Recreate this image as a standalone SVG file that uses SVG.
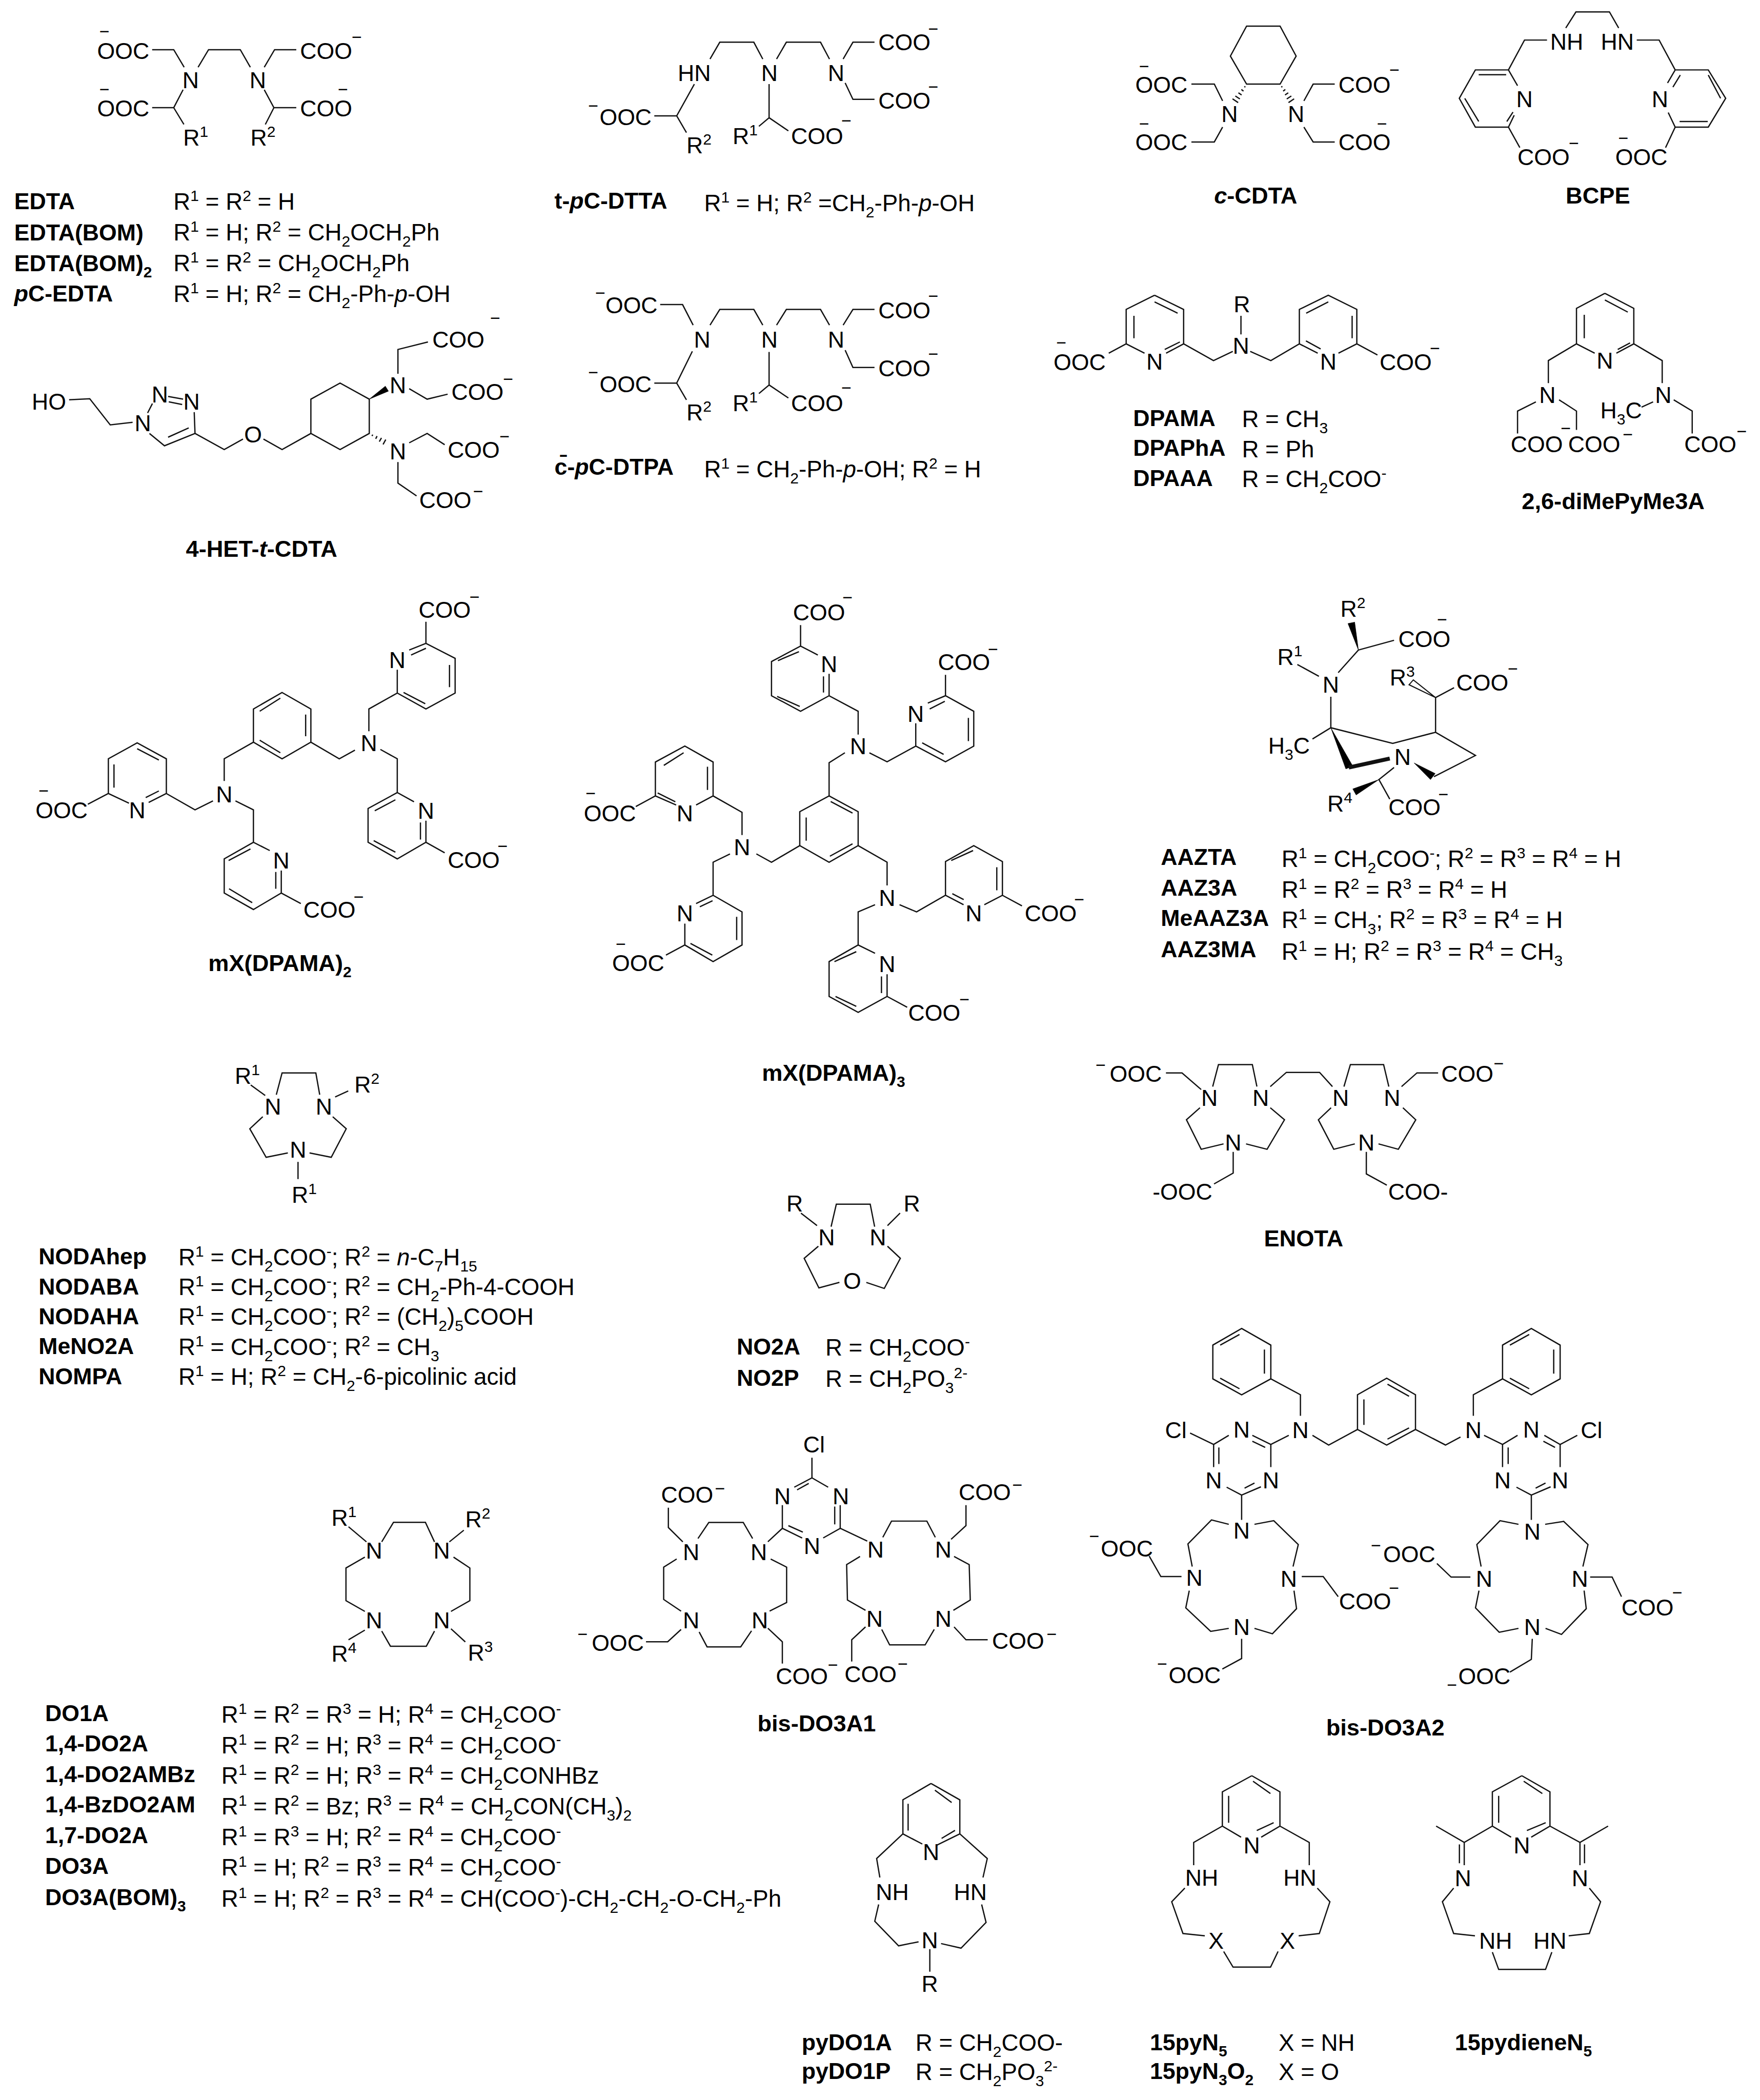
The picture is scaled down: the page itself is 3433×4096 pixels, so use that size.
<svg xmlns="http://www.w3.org/2000/svg" width="3433" height="4096" viewBox="0 0 3433 4096">
<style>
text{font-family:"Liberation Sans",Arial,sans-serif;fill:#000}
.a{font-size:17.1px}
.t{font-size:17.5px}
.n{font-size:17.1px;text-anchor:middle}
.b{font-size:17.1px;font-weight:bold}
.c{font-size:17.3px;font-weight:bold;text-anchor:middle}
.m{font-size:13px;text-anchor:middle}
.u{font-size:11.5px;baseline-shift:6.4px}
.d{font-size:11.5px;baseline-shift:-4.5px}
.i{font-style:italic}
path{fill:none;stroke:#111;stroke-width:.95;stroke-linejoin:miter}
.f{fill:#000;stroke:#000;stroke-width:.3}
.o{fill:#fff;stroke:#111;stroke-width:.8}
.k{stroke-width:3}
</style>
<rect width="3433" height="4096" fill="#fff"/>
<g transform="scale(2.6126)">

<g id="EDTA">
<path d="M113.6 37.1H129.7L137.5 50.2M147.9 50.2L155.7 37.1H179.4L186.9 50.2M197.3 50.2L205 37.1H221.2M113.6 80.4H129.7M136.7 67L129.7 80.4L137.3 92.9M197.3 67L204.5 80.4H221.2M204.5 80.4L198.1 92.9"/>
<text class="a" x="72.5" y="44">OOC</text><text class="m" x="78" y="28">−</text>
<text class="a" x="224" y="44">COO</text><text class="m" x="266.4" y="32.2">−</text>
<text class="n" x="142.3" y="66">N</text><text class="n" x="192.5" y="66">N</text>
<text class="a" x="72.5" y="87">OOC</text><text class="m" x="78" y="71.3">−</text>
<text class="a" x="224" y="87">COO</text><text class="m" x="256" y="71.3">−</text>
<text class="a" x="136.7" y="108.8">R<tspan class="u">1</tspan></text>
<text class="a" x="187" y="108.8">R<tspan class="u">2</tspan></text>
<text class="b" x="10.6" y="156.2">EDTA</text>
<text class="t" x="129.5" y="156.5">R<tspan class="u">1</tspan> = R<tspan class="u">2</tspan> = H</text>
<text class="b" x="10.6" y="179.4">EDTA(BOM)</text>
<text class="t" x="129.5" y="179.5">R<tspan class="u">1</tspan> = H; R<tspan class="u">2</tspan> = CH<tspan class="d">2</tspan>OCH<tspan class="d">2</tspan>Ph</text>
<text class="b" x="10.6" y="202.3">EDTA(BOM)<tspan class="d">2</tspan></text>
<text class="t" x="129.5" y="202.5">R<tspan class="u">1</tspan> = R<tspan class="u">2</tspan> = CH<tspan class="d">2</tspan>OCH<tspan class="d">2</tspan>Ph</text>
<text class="b" x="10.6" y="225.2"><tspan class="i">p</tspan>C-EDTA</text>
<text class="t" x="129.5" y="225.5">R<tspan class="u">1</tspan> = H; R<tspan class="u">2</tspan> = CH<tspan class="d">2</tspan>-Ph-<tspan class="i">p</tspan>-OH</text>
</g>

<g id="t-pC-DTTA">
<path d="M530.1 44.1L537.4 31.5H562.8L569.5 44.1M579.8 44.1L587.1 31.5H612.6L619.3 44.1M629.5 44.1L636.8 31.5H652.9M631 61.9L636.8 74.2H652.9M518.4 62.8L505.2 86.5H488.5M505.2 86.5L512.5 99M574.2 62.8V87.9L566.6 94.3M574.2 87.9L588.6 97.7"/>
<text class="n" x="518.4" y="60.4">HN</text><text class="n" x="574.5" y="60.4">N</text><text class="n" x="624.2" y="60.4">N</text>
<text class="a" x="655.8" y="37.7">COO</text><text class="m" x="696.8" y="26.1">−</text>
<text class="a" x="655.8" y="81.2">COO</text><text class="m" x="696.8" y="69.3">−</text>
<text class="a" x="447.6" y="93.5">OOC</text><text class="m" x="442.9" y="83.3">−</text>
<text class="a" x="512.5" y="114.4">R<tspan class="u">2</tspan></text>
<text class="a" x="547" y="107.4">R<tspan class="u">1</tspan></text>
<text class="a" x="590.6" y="107.4">COO</text><text class="m" x="631.9" y="94.4">−</text>
<text class="b" x="414" y="155.7">t-<tspan class="i">p</tspan>C-DTTA</text>
<text class="t" x="525.7" y="157.6">R<tspan class="u">1</tspan> = H; R<tspan class="u">2</tspan> =CH<tspan class="d">2</tspan>-Ph-<tspan class="i">p</tspan>-OH</text>
</g>

<g id="c-pC-DTPA">
<path d="M492.9 227.4H509.6L517.5 242.7M530.1 242.7L537.4 231H562.8L569.5 242.7M579.8 242.7L587.1 231H612.6L619.3 242.7M629.5 242.7L636.8 231H652.9M631 261.4L636.8 274.3H652.9M516.9 262.3L505.2 286H488.5M505.2 286L512.5 298.5M574.2 262.8V287.4L566.6 293.8M574.2 287.4L588.6 297.1"/>
<text class="n" x="524.2" y="259.4">N</text><text class="n" x="574.5" y="259.4">N</text><text class="n" x="624.2" y="259.4">N</text>
<text class="a" x="452" y="233.8">OOC</text><text class="m" x="448.2" y="223.3">−</text>
<text class="a" x="655.8" y="237.7">COO</text><text class="m" x="696.8" y="225.5">−</text>
<text class="a" x="655.8" y="281">COO</text><text class="m" x="696.8" y="268.8">−</text>
<text class="a" x="447.6" y="293">OOC</text><text class="m" x="442.9" y="282.5">−</text>
<text class="a" x="512.5" y="313.9">R<tspan class="u">2</tspan></text>
<text class="a" x="547" y="306.9">R<tspan class="u">1</tspan></text>
<text class="a" x="590.6" y="306.9">COO</text><text class="m" x="631.9" y="293.9">−</text>
<text class="b" x="414" y="354.3">c̄-<tspan class="i">p</tspan>C-DTPA</text>
<text class="t" x="525.7" y="356.3">R<tspan class="u">1</tspan> = CH<tspan class="d">2</tspan>-Ph-<tspan class="i">p</tspan>-OH; R<tspan class="u">2</tspan> = H</text>
</g>

<g id="c-CDTA">
<path d="M930.7 19.5H955.7L967.7 41.9L955.7 62.8H930.7L918.6 41.9ZM889.5 62.8H906.6L912.8 75.3M912.8 94.9L906.6 106H889.5M973.5 75.3L980.4 62.8H996.5M973.5 94.9L980.4 106H996.5"/>
<path d="M929 64.5L929.8 65.1M926.8 66.8L928.4 68M924.6 69.3L927 70.9M922.3 71.7L925.7 73.9M920.2 73.8L924.4 76.6M957.4 64.5L956.6 65.1M959.6 66.8L958 68M961.8 69.3L959.4 70.9M964.1 71.7L960.7 73.9M966.2 73.8L962 76.6"/>
<text class="n" x="918" y="91.1">N</text><text class="n" x="967.7" y="91.1">N</text>
<text class="a" x="847.6" y="69.2">OOC</text><text class="m" x="854.2" y="54">−</text>
<text class="a" x="847.6" y="112.2">OOC</text><text class="m" x="854.2" y="96.9">−</text>
<text class="a" x="999.3" y="69.2">COO</text><text class="m" x="1041.1" y="56.8">−</text>
<text class="a" x="999.3" y="112.2">COO</text><text class="m" x="1031.8" y="96.9">−</text>
<text class="c" x="937.5" y="152"><tspan class="i">c</tspan>-CDTA</text>
</g>

<g id="BCPE">
<path d="M1169 20.9L1176.6 8.9H1201.6L1208.5 20.9M1155 29.9H1138.2L1126.2 52.2M1222 29.9H1238.7L1250.7 52.2"/>
<path d="M1126.2 52.2H1101.5L1089.5 73.4L1101.5 94.9H1126.2L1130.5 86M1126.2 52.2L1133 64M1104 55.8H1124.5M1093.6 73.4L1104 90.7M1125 90.7L1129.6 83.7"/>
<path d="M1250.7 52.2H1275.4L1288.4 73.4L1275.4 94.9H1250.7L1245.5 84M1250.7 52.2L1245 62M1254.5 56L1249 65M1254 90.7H1275M1275.4 56L1284.6 73.4"/>
<path d="M1126.2 94.9L1134.7 110.2M1250.7 94.9L1243.5 110.2"/>
<text class="n" x="1169.7" y="37.2">NH</text><text class="n" x="1207.5" y="37.2">HN</text>
<text class="n" x="1138.2" y="79.9">N</text><text class="n" x="1239.3" y="79.9">N</text>
<text class="a" x="1133" y="123.3">COO</text><text class="m" x="1175" y="111.2">−</text>
<text class="a" x="1206" y="123.3">OOC</text><text class="m" x="1212" y="107.5">−</text>
<text class="c" x="1193" y="152">BCPE</text>
</g>

<g id="4-HET-t-CDTA">
<path d="M51.6 298.5L67 297.7L82.3 317.2L99 315.3M110.2 308.3L113.8 301.3M125.5 296L136.7 298M126 300L136 302M145 307.7L145.6 323.6L122.8 332.8L111.6 323.6M140.9 319.5L125.5 326.4M145.6 323.6L167.4 335.6L181.4 327.8M196.7 327.8L210.6 335.6L232.1 323.6V298L253.9 286L275.7 298V323.6L253.9 335.6L232.1 323.6"/>
<polygon class="f" points="275.7,298 287.7,288.3 290,292"/>
<path d="M277.7 325.5L278.3 324.5M280.5 327.6L281.5 325.6M283.2 329.7L284.8 326.9M286 331.8L288 328.2"/>
<path d="M297.1 279V260.9L319.5 255.3M305.5 290.2L318.9 298L334.2 294.3M305.5 330.6L318.9 323.6L332 332M297.1 345V360.7L311 370.2"/>
<text class="a" x="23.7" y="306">HO</text>
<text class="n" x="106.6" y="322">N</text><text class="n" x="119.4" y="300.3">N</text><text class="n" x="143" y="306">N</text>
<text class="n" x="188.9" y="330.2">O</text>
<text class="n" x="297.1" y="293.4">N</text><text class="n" x="297.1" y="342.8">N</text>
<text class="a" x="322.8" y="259.5">COO</text><text class="m" x="369.7" y="242">−</text>
<text class="a" x="337" y="298.5">COO</text><text class="m" x="379.4" y="287.5">−</text>
<text class="a" x="334.2" y="341.8">COO</text><text class="m" x="376.7" y="330.2">−</text>
<text class="a" x="313" y="379.4">COO</text><text class="m" x="357" y="371.2">−</text>
<text class="c" x="195.3" y="415.7">4-HET-<tspan class="i">t</tspan>-CDTA</text>
</g>

<g id="DPAMA">
<path d="M862 220.4L883.7 231V256.7L870.6 263.7M854.5 263.7L840.8 256.7V231L862 220.4M846.6 235.8V252.5M862 225.4L879.2 233.8M869.6 260.9L880.9 255.3M840.8 256.7L827.8 263.7M883.7 256.7L906 269.2L920.4 262.3M926.5 235.8V249.7M933.4 262.3L948.8 269.2L970.1 256.7L983.8 263.7M999.3 263.7L1013 256.7V231L991.7 220.4L970.1 231V256.7M1009.5 235.8V252.5M991.7 225.4L975.2 233.8M975 254.5L986 260.5M1013 256.7L1028.4 265"/>
<text class="a" x="786.6" y="276.2">OOC</text><text class="m" x="792.4" y="260.1">−</text>
<text class="n" x="862" y="276">N</text><text class="n" x="926.5" y="264">N</text><text class="n" x="991.7" y="276">N</text>
<text class="n" x="927.2" y="233">R</text>
<text class="a" x="1030" y="276.2">COO</text><text class="m" x="1071.3" y="264.6">−</text>
<text class="b" x="846" y="318">DPAMA</text><text class="t" x="927.2" y="319">R = CH<tspan class="d">3</tspan></text>
<text class="b" x="846" y="340.4">DPAPhA</text><text class="t" x="927.2" y="341.4">R = Ph</text>
<text class="b" x="846" y="362.7">DPAAA</text><text class="t" x="927.2" y="363.7">R = CH<tspan class="d">2</tspan>COO<tspan class="u">-</tspan></text>
</g>

<g id="diMePyMe3A">
<path d="M1198.2 219L1219.8 230.2V256.7L1206.8 263.7M1190.6 263.7L1177 256.7V230.2L1198.2 219M1182.8 235V252.5M1198.2 224L1215.3 233M1207.8 260.9L1217 256M1177 256.7L1156 269.2V286M1219.8 256.7L1241 269.2V286M1146.7 300L1133 306.9V323.6M1164 298.5L1177 306.9V320.9M1225.6 304L1234.2 300M1249.6 298.5L1263.4 306.9V323.6"/>
<text class="n" x="1198.2" y="275.2">N</text><text class="n" x="1155.3" y="301">N</text><text class="n" x="1241.8" y="301">N</text>
<text class="a" x="1127.9" y="337.6">COO</text><text class="a" x="1170.8" y="337.6">COO</text>
<text class="m" x="1169" y="324.3">−</text><text class="m" x="1215.3" y="328.8">−</text>
<text class="a" x="1194.8" y="312.5">H<tspan class="d">3</tspan>C</text>
<text class="a" x="1257.5" y="337.6">COO</text><text class="m" x="1300.4" y="326.5">−</text>
<text class="c" x="1204.4" y="380">2,6-diMePyMe3A</text>
</g>

<g id="mX-DPAMA-2">
<path d="M210.6 517L232.1 529.3V554.1L210.6 566.5L189.2 554.1V529.3ZM193.9 531L209.3 521.2M228.2 533.5V549.6M193.9 552.6L209.3 562M189.2 554.1L167.4 566.5V583M232.1 554.1L253.3 566.5L265 560M159 597.9L145.6 604.6L124.2 592.4"/>
<path d="M124.2 592.4V566.5L102.4 554.6L80.9 566.5V592.4L96.3 599.6M124.2 592.4L111 599.1M85.1 570.7V588M102.4 559L118.6 567.4M108.8 595.4L118.6 590.5M80.9 592.4L65.6 600.4"/>
<path d="M175.8 597.9L189.2 604.6V628.8L201.4 635M210 649.9V666.7L189.2 679L167.4 666.7V641.2L189.2 628.8M205.9 651V663.5M171 663.5L188.3 673.9M170.7 642.4L187 633.8M210 666.7L224.6 674.6"/>
<path d="M275.4 545.9V529.3L296.6 517.4V500M305.5 485.3L318 480.3L339.8 491.5V517.4L318 529.3L296.6 517.4M306.9 489L318 484M335.6 496.4V513M301.3 517L317.5 525.4M318 480.3V464.2"/>
<path d="M284 559.5L296.6 566.5V591.7L309.1 598.6M318 612.7V628.8L296.6 641.2L274.8 628.8V603.6L296.6 591.7M313.9 614V626.8M279 627.6L295.2 636.2M279.8 605.3L295.2 597.1M318 628.8L332 636.7"/>
<text class="a" x="26.5" y="611">OOC</text><text class="m" x="32.6" y="594.8">−</text>
<text class="n" x="102.4" y="611">N</text><text class="n" x="167.4" y="599">N</text><text class="n" x="275.4" y="560.6">N</text>
<text class="n" x="210" y="648.4">N</text><text class="n" x="296.6" y="498.7">N</text><text class="n" x="318" y="611.3">N</text>
<text class="a" x="226.5" y="685.3">COO</text><text class="m" x="267.8" y="674">−</text>
<text class="a" x="312.5" y="461.3">COO</text><text class="m" x="354.3" y="450">−</text>
<text class="a" x="334.2" y="648.1">COO</text><text class="m" x="375.3" y="636.3">−</text>
<text class="c" x="209" y="724.9">mX(DPAMA)<tspan class="d">2</tspan></text>
</g>

<g id="mX-DPAMA-3">
<path d="M619 594.2L640.7 606V631.3L619 643.7L597.1 631.3V606ZM620.2 598.4L636.5 607M601.9 610.3V627.6M619.6 639.2L636.5 630"/>
<path d="M619 594.2V569.4L630.8 562M640.7 548.4V531L619 519.4V503M614.8 505V517M619 519.4L597.7 531L576 519.4V493.9L597.7 482.3L610.6 489M580.8 493.2L596.5 486.5M580.2 519.9L597.1 527.4M597.7 482.3V466.7"/>
<path d="M649.1 562L662.3 568.7L683.7 557V540M692.7 524.9L705.9 519.4L727 531V557L705.9 568.7L683.7 557M694.1 529.3L705.4 523.6M723 536V553.3M688.5 554.6L704.5 563.2M705.9 519.4V503.8"/>
<path d="M597.1 631.3L576 643.7L564.7 637.5M554 623.4V606.5L532.4 594.2V568.9L511.3 557L489.3 568.9V594.2L504.8 601M532.4 594.2L519.7 601M528.2 572.4V589.7M495.6 571.4L510.4 562M491 592L504.2 598.6M489.3 594.2L474.7 602.1"/>
<path d="M545 637.5L532.4 643.7V668.4L519.7 674.6M522.5 677L532 672.5M532.4 668.4L554 680.8V705.5L532.4 717.9L511.3 705.5V689.5M550 684.5V701.8M515.5 704.3L531.8 713M511.3 705.5L497.2 713"/>
<path d="M640.7 631.3L662.3 643.7V661M671.6 675.4L684.3 680.8L705.9 668.4L719.4 675.4M711 667.2L719.5 671.6M705.9 668.4V643.2L727 631.3L748.4 643.2V668.4L734.9 675.4M744.2 647.4V664.7M710.2 642.4L726.5 635M748.4 668.4L763 676.3"/>
<path d="M653.3 675.4L640.7 680.8V705.5L653.3 711.7M662.3 727.3V743.9L640.7 755.8L619 743.9V717.9L640.7 705.5M658.1 729V741.4M623.8 743.9L639.3 751.3M623 717.9L639.3 710.5M662.3 743.9L677.3 752"/>
<text class="n" x="640.7" y="563">N</text><text class="n" x="619" y="501.7">N</text><text class="n" x="683.7" y="539">N</text>
<text class="n" x="554" y="638.5">N</text><text class="n" x="511.3" y="613">N</text><text class="n" x="511.3" y="688">N</text>
<text class="n" x="662.3" y="676.2">N</text><text class="n" x="727" y="688">N</text><text class="n" x="662.3" y="725.6">N</text>
<text class="a" x="592" y="463">COO</text><text class="m" x="632.8" y="450.7">−</text>
<text class="a" x="700.3" y="500.1">COO</text><text class="m" x="741.4" y="489.1">−</text>
<text class="a" x="435.9" y="613.2">OOC</text><text class="m" x="441" y="596.7">−</text>
<text class="a" x="457" y="724.9">OOC</text><text class="m" x="463.5" y="709.1">−</text>
<text class="a" x="765" y="687.7">COO</text><text class="m" x="805.8" y="675.9">−</text>
<text class="a" x="678.1" y="762">COO</text><text class="m" x="720" y="750.7">−</text>
<text class="c" x="622.4" y="807">mX(DPAMA)<tspan class="d">3</tspan></text>
</g>

<g id="AAZTA">
<polygon class="f" points="1014.2,485.3 1006.4,465.5 1011.4,464.5"/>
<path d="M1014.2 485.3L1040.8 478M1014.2 485.3L999.1 502.2M968.6 496.1L984.7 504.9M993.6 520.2V543.3M979.9 551.7L993.6 543.3L1039.8 555L1071.8 546.7V520.8M1071.8 520.8L1085.6 513.4M1071.8 546.7L1101.6 564L1070.6 579.8M1040.8 573L1029.5 582L1037.6 596.6"/>
<polygon class="o" points="1071.8,520.8 1052,511.2 1055.2,507.6"/>
<polygon class="f" points="1055.8,569.6 1071.5,577.5 1068,582"/>
<polygon class="f" points="993.6,543.3 1004.8,574 1010,572"/>
<path class="k" d="M1007 573L1037.6 566.3"/>
<polygon class="f" points="1029.5,582 1012.5,593.5 1010,589"/>
<text class="a" x="1000.7" y="460.5">R<tspan class="u">2</tspan></text>
<text class="a" x="1044" y="483">COO</text><text class="m" x="1076.7" y="467.1">−</text>
<text class="n" x="993.6" y="517.2">N</text>
<text class="a" x="953.6" y="496.5">R<tspan class="u">1</tspan></text>
<text class="a" x="946.9" y="562.5">H<tspan class="d">3</tspan>C</text>
<text class="a" x="1037.6" y="511.6">R<tspan class="u">3</tspan></text>
<text class="a" x="1087.2" y="515.7">COO</text><text class="m" x="1129.5" y="503.8">−</text>
<text class="n" x="1047.2" y="571.2">N</text>
<text class="a" x="1036.6" y="608.4">COO</text><text class="m" x="1077.6" y="597.6">−</text>
<text class="a" x="991" y="606.1">R<tspan class="u">4</tspan></text>
<text class="b" x="866.7" y="645.7">AAZTA</text>
<text class="t" x="956.8" y="647.3">R<tspan class="u">1</tspan> = CH<tspan class="d">2</tspan>COO<tspan class="u">-</tspan>; R<tspan class="u">2</tspan> = R<tspan class="u">3</tspan> = R<tspan class="u">4</tspan> = H</text>
<text class="b" x="866.7" y="668.7">AAZ3A</text>
<text class="t" x="956.8" y="670.3">R<tspan class="u">1</tspan> = R<tspan class="u">2</tspan> = R<tspan class="u">3</tspan> = R<tspan class="u">4</tspan> = H</text>
<text class="b" x="866.7" y="691.2">MeAAZ3A</text>
<text class="t" x="956.8" y="692.8">R<tspan class="u">1</tspan> = CH<tspan class="d">3</tspan>; R<tspan class="u">2</tspan> = R<tspan class="u">3</tspan> = R<tspan class="u">4</tspan> = H</text>
<text class="b" x="866.7" y="714.8">AAZ3MA</text>
<text class="t" x="956.8" y="716.4">R<tspan class="u">1</tspan> = H; R<tspan class="u">2</tspan> = R<tspan class="u">3</tspan> = R<tspan class="u">4</tspan> = CH<tspan class="d">3</tspan></text>
</g>

<g id="NODA">
<path d="M206.3 817.3L210.6 801H235.8L238.7 817.3M187.2 810L198 817.9M250.2 819L260 814.5M196.2 833.7L186.5 842.7L198.7 864L214.9 860.7M248.4 833.7L258.5 842.7L247.3 864L231.1 860.7M222.5 867.4V880.3"/>
<text class="a" x="175.3" y="809">R<tspan class="u">1</tspan></text>
<text class="a" x="264.6" y="815.7">R<tspan class="u">2</tspan></text>
<text class="a" x="217.8" y="897.8">R<tspan class="u">1</tspan></text>
<text class="n" x="203.8" y="832.2">N</text><text class="n" x="241.9" y="832.2">N</text><text class="n" x="222.5" y="864.4">N</text>
<text class="b" x="28.8" y="944">NODAhep</text>
<text class="t" x="133.2" y="944.5">R<tspan class="u">1</tspan> = CH<tspan class="d">2</tspan>COO<tspan class="u">-</tspan>; R<tspan class="u">2</tspan> = <tspan class="i">n</tspan>-C<tspan class="d">7</tspan>H<tspan class="d">15</tspan></text>
<text class="b" x="28.8" y="966.4">NODABA</text>
<text class="t" x="133.2" y="966.9">R<tspan class="u">1</tspan> = CH<tspan class="d">2</tspan>COO<tspan class="u">-</tspan>; R<tspan class="u">2</tspan> = CH<tspan class="d">2</tspan>-Ph-4-COOH</text>
<text class="b" x="28.8" y="988.5">NODAHA</text>
<text class="t" x="133.2" y="989">R<tspan class="u">1</tspan> = CH<tspan class="d">2</tspan>COO<tspan class="u">-</tspan>; R<tspan class="u">2</tspan> = (CH<tspan class="d">2</tspan>)<tspan class="d">5</tspan>COOH</text>
<text class="b" x="28.8" y="1011">MeNO2A</text>
<text class="t" x="133.2" y="1011.5">R<tspan class="u">1</tspan> = CH<tspan class="d">2</tspan>COO<tspan class="u">-</tspan>; R<tspan class="u">2</tspan> = CH<tspan class="d">3</tspan></text>
<text class="b" x="28.8" y="1033.5">NOMPA</text>
<text class="t" x="133.2" y="1034">R<tspan class="u">1</tspan> = H; R<tspan class="u">2</tspan> = CH<tspan class="d">2</tspan>-6-picolinic acid</text>
</g>

<g id="ENOTA">
<path d="M870.5 801H882.5L896.8 813.4M905.4 811.2L909.7 794.8H935L938.4 811.2M948.4 811.2L960.4 800.6H985.2L994.8 811.2M1003.4 811.2L1008.2 794.8H1033L1036.9 811.2M1046.4 811.2L1057.9 801H1073.7M895.9 827L885.8 836L896.8 858L913.5 854M948.4 827L959 836L946 858L930.3 854M920.7 860V875.8L906.4 883.9M993.8 827L984.3 836L995.8 858L1011.5 854M1047.4 827L1057 836L1044 858L1029.2 854M1020.1 860V876.4L1035.4 884.8"/>
<text class="m" x="821.8" y="799.7">−</text><text class="a" x="828.5" y="807.8">OOC</text>
<text class="a" x="1076" y="807.8">COO</text><text class="m" x="1119" y="798.6">−</text>
<text class="n" x="903" y="825.5">N</text><text class="n" x="941.3" y="825.5">N</text><text class="n" x="1001" y="825.5">N</text><text class="n" x="1039.3" y="825.5">N</text>
<text class="n" x="920.7" y="858.8">N</text><text class="n" x="1020.1" y="858.8">N</text>
<text class="a" x="860.5" y="895.6">-OOC</text><text class="a" x="1036.4" y="895.6">COO-</text>
<text class="c" x="973.3" y="930.4">ENOTA</text>
</g>

<g id="NO2A">
<path d="M620.5 915.8L624.4 899H649.7L653 915.8M598 905.7L610 915M672 905.7L662.6 915M611 930.4L600.4 939.4L611.4 961.5L626.7 957.4M662.6 930.4L672.2 939.4L660.2 961.9L646.8 957.4"/>
<text class="n" x="593.3" y="904.6">R</text><text class="n" x="680.8" y="904.6">R</text>
<text class="n" x="617.2" y="929.7">N</text><text class="n" x="655.4" y="929.7">N</text><text class="n" x="636.3" y="962.3">O</text>
<text class="b" x="550" y="1011.4">NO2A</text><text class="t" x="616.2" y="1012">R = CH<tspan class="d">2</tspan>COO<tspan class="u">-</tspan></text>
<text class="b" x="550" y="1034.6">NO2P</text><text class="t" x="616.2" y="1035.2">R = CH<tspan class="d">2</tspan>PO<tspan class="d">3</tspan><tspan class="u">2-</tspan></text>
</g>

<g id="DO-series">
<path d="M285 1151.1L293.8 1136.5H317.6L324.4 1151.1M285 1217.7L291.5 1229H318.3L324.4 1217.7M272.4 1162.5L258.3 1170.6V1195L272.4 1203M338.6 1162.5L350.8 1170.6V1195L336.7 1203M260.2 1139.8L273.6 1151.1M346.3 1142.4L335.5 1151.1M272.4 1217L260.2 1224.2M336.7 1216L347.4 1225.8"/>
<text class="n" x="279.3" y="1163.6">N</text><text class="n" x="329.8" y="1163.6">N</text><text class="n" x="279.3" y="1215.6">N</text><text class="n" x="329.8" y="1215.6">N</text>
<text class="a" x="247.5" y="1139.1">R<tspan class="u">1</tspan></text><text class="a" x="347.4" y="1140.4">R<tspan class="u">2</tspan></text>
<text class="a" x="349.3" y="1239.8">R<tspan class="u">3</tspan></text><text class="a" x="247.5" y="1240.4">R<tspan class="u">4</tspan></text>
<text class="b" x="33.7" y="1284.9">DO1A</text>
<text class="t" x="165.3" y="1286.2">R<tspan class="u">1</tspan> = R<tspan class="u">2</tspan> = R<tspan class="u">3</tspan> = H; R<tspan class="u">4</tspan> = CH<tspan class="d">2</tspan>COO<tspan class="u">-</tspan></text>
<text class="b" x="33.7" y="1307.6">1,4-DO2A</text>
<text class="t" x="165.3" y="1308.9">R<tspan class="u">1</tspan> = R<tspan class="u">2</tspan> = H; R<tspan class="u">3</tspan> = R<tspan class="u">4</tspan> = CH<tspan class="d">2</tspan>COO<tspan class="u">-</tspan></text>
<text class="b" x="33.7" y="1330.4">1,4-DO2AMBz</text>
<text class="t" x="165.3" y="1331.7">R<tspan class="u">1</tspan> = R<tspan class="u">2</tspan> = H; R<tspan class="u">3</tspan> = R<tspan class="u">4</tspan> = CH<tspan class="d">2</tspan>CONHBz</text>
<text class="b" x="33.7" y="1353.1">1,4-BzDO2AM</text>
<text class="t" x="165.3" y="1354.4">R<tspan class="u">1</tspan> = R<tspan class="u">2</tspan> = Bz; R<tspan class="u">3</tspan> = R<tspan class="u">4</tspan> = CH<tspan class="d">2</tspan>CON(CH<tspan class="d">3</tspan>)<tspan class="d">2</tspan></text>
<text class="b" x="33.7" y="1376.1">1,7-DO2A</text>
<text class="t" x="165.3" y="1377.4">R<tspan class="u">1</tspan> = R<tspan class="u">3</tspan> = H; R<tspan class="u">2</tspan> = R<tspan class="u">4</tspan> = CH<tspan class="d">2</tspan>COO<tspan class="u">-</tspan></text>
<text class="b" x="33.7" y="1398.9">DO3A</text>
<text class="t" x="165.3" y="1400.2">R<tspan class="u">1</tspan> = H; R<tspan class="u">2</tspan> = R<tspan class="u">3</tspan> = R<tspan class="u">4</tspan> = CH<tspan class="d">2</tspan>COO<tspan class="u">-</tspan></text>
<text class="b" x="33.7" y="1422.3">DO3A(BOM)<tspan class="d">3</tspan></text>
<text class="t" x="165.3" y="1423.6">R<tspan class="u">1</tspan> = H; R<tspan class="u">2</tspan> = R<tspan class="u">3</tspan> = R<tspan class="u">4</tspan> = CH(COO<tspan class="u">-</tspan>)-CH<tspan class="d">2</tspan>-CH<tspan class="d">2</tspan>-O-CH<tspan class="d">2</tspan>-Ph</text>
</g>

<g id="bis-DO3A1">
<path d="M606.2 1088.3V1103.3L593 1110.3M603.8 1107.5L595.1 1112.3M606.2 1103.3L618.3 1110.3M584.1 1123.7V1141L598.9 1148.2M627.3 1123.7V1141L614.6 1148.2M623.2 1124.7V1138M588.6 1139L599.4 1143.8M584.1 1141L573.3 1151"/>
<path d="M521.1 1148.6L529.2 1136.6H554.9L561.9 1148.6M505.2 1163.9L495.5 1170V1194.1L508.5 1202.8M575.4 1163.9L587.3 1170V1196.4L574.6 1202.8M522 1218.4L527.9 1229.5H553L561.1 1217.5M509.8 1151.1L499 1140.4V1125.6M508.5 1216.5L498.5 1225.7H482.3M573.3 1215.6L584.1 1225.7V1242"/>
<path d="M627.3 1141L647.5 1150.5M659.1 1147.7L665.6 1135.6H692L698.3 1147.7M642.1 1162L632.1 1168.1L632.7 1194.5L646.2 1202.2M712.3 1162L723.6 1168.1L724.4 1194.5L711.8 1202.2M658.3 1216.5L664.2 1228H690.7L697.5 1216.5M710.1 1149.2L721.2 1139V1123.7M646.2 1214.6L635.9 1224.2V1240.4M712.3 1214.6L721.2 1224.2H737.4"/>
<text class="n" x="607.8" y="1084.5">Cl</text>
<text class="n" x="584.1" y="1123">N</text><text class="n" x="627.8" y="1123">N</text><text class="n" x="606.2" y="1160.3">N</text>
<text class="n" x="516" y="1164.7">N</text><text class="n" x="566.5" y="1164.7">N</text><text class="n" x="516" y="1215.8">N</text><text class="n" x="567.3" y="1215.8">N</text>
<text class="n" x="653.7" y="1162.8">N</text><text class="n" x="704.2" y="1162.8">N</text><text class="n" x="652.9" y="1214.5">N</text><text class="n" x="704.2" y="1214.5">N</text>
<text class="a" x="493.6" y="1121.8">COO</text><text class="m" x="537.6" y="1115.6">−</text>
<text class="a" x="441.8" y="1232.4">OOC</text><text class="m" x="435" y="1224.6">−</text>
<text class="a" x="579.2" y="1257.3">COO</text><text class="m" x="621.9" y="1247.6">−</text>
<text class="a" x="715.8" y="1119.9">COO</text><text class="m" x="759.6" y="1113.1">−</text>
<text class="a" x="630.5" y="1255.7">COO</text><text class="m" x="674" y="1246.6">−</text>
<text class="a" x="740.6" y="1230.9">COO</text><text class="m" x="785.2" y="1224.6">−</text>
<text class="c" x="609.7" y="1292.7">bis-DO3A1</text>
</g>

<g id="bis-DO3A2">
<path d="M927 991.8L948.8 1004.2V1029.4L927 1041.3L905.5 1029.4V1004.2ZM944 1007.5V1025.5M925.4 996.3L911 1004.2M911 1028.9L925.4 1036.8M948.8 1029.4L970.9 1041.3V1057"/>
<path d="M962.2 1071.6L948.8 1078.4L935 1071.6M944.6 1080.6L935 1076M948.8 1078.4V1095.3M906.1 1078.4L917.4 1071.6M906.1 1078.4V1095.3M910 1080.6V1093M927 1116.2L915.8 1110.3M927 1116.2L941.4 1110M929.2 1111L936.6 1107.2M888.5 1069.9L906.1 1078.4M927 1116.2V1134.7"/>
<path d="M917.4 1138L904.5 1134.7L886.9 1152.6L890.1 1169.5M887.9 1187.5L885.3 1200.4L903.9 1217.9L917.4 1215.7M936.6 1138L951 1135.3L969.3 1153.1L965.4 1169.5M966.1 1187.5L968 1201L950 1219.7L936.6 1215.7M882.1 1177H866.7L858 1161.7M971.9 1177H987.9L999.1 1192M927 1223.5V1238.2L912.6 1246"/>
<path d="M979.9 1071.6L992 1078.8L1013.5 1067.2V1041.3L1035.3 1028.9L1056.8 1041.3V1067.2L1035.3 1078.8L1013.5 1067.2M1018.3 1044.7V1063.8M1035.9 1033.4L1052 1042.4M1035.9 1074.4L1052 1066M1056.8 1067.2L1079.2 1078.8L1090.4 1072.8M1100 1057V1041.3L1121.8 1029.4V1004.2L1143.3 991.8L1164.8 1004.2V1029.4L1143.3 1041.3L1121.8 1029.4M1160 1007.5V1025.5M1127.3 1004.2L1141.7 996.3M1127.3 1028.9L1141.7 1036.8"/>
<path d="M1108 1071.6L1121.8 1078.4L1133 1071.6M1121.8 1078.4V1095.3M1126 1080.6V1093M1153 1071.6L1164.8 1078.4V1095.3M1161 1080.6L1152.3 1076M1164.8 1078.4L1177.6 1071.6M1143.3 1116.2L1132.2 1110.3M1143.3 1116.2L1157.7 1110M1146.5 1111L1153.9 1107.2M1143.3 1116.2V1134.7"/>
<path d="M1133.7 1138L1119.9 1135.3L1102.6 1153.1L1105.8 1169.5M1104.2 1187.5L1101.6 1200.4L1119.3 1218.6L1133.7 1215.7M1153.6 1138L1167.4 1135.8L1185.6 1153.1L1181.8 1169.5M1182.7 1187.5L1184.3 1201L1165.8 1220.2L1153.9 1215.7M1097.8 1177.4H1083.4L1072.8 1167.3M1187.2 1177.4H1203.6L1210.6 1192M1144 1223.5L1143.3 1238.8L1127.3 1248.3"/>
<text class="n" x="970.9" y="1073.6">N</text><text class="n" x="927" y="1073.2">N</text><text class="n" x="906.1" y="1111">N</text><text class="n" x="948.8" y="1111">N</text>
<text class="n" x="877.9" y="1073.5">Cl</text>
<text class="n" x="927" y="1148.5">N</text><text class="n" x="891.7" y="1183.8">N</text><text class="n" x="962.2" y="1184.5">N</text><text class="n" x="927" y="1220.5">N</text>
<text class="a" x="821.9" y="1162.1">OOC</text><text class="m" x="817" y="1151.3">−</text>
<text class="a" x="999.7" y="1201.5">COO</text><text class="m" x="1040.8" y="1190">−</text>
<text class="a" x="872.5" y="1256.6">OOC</text><text class="m" x="867.7" y="1246.5">−</text>
<text class="n" x="1100" y="1073.6">N</text><text class="n" x="1143.3" y="1073.2">N</text><text class="n" x="1121.8" y="1111">N</text><text class="n" x="1164.8" y="1111">N</text>
<text class="n" x="1188.2" y="1073.5">Cl</text>
<text class="n" x="1144" y="1149.6">N</text><text class="n" x="1108" y="1184.5">N</text><text class="n" x="1179.5" y="1184.5">N</text><text class="n" x="1144" y="1220.5">N</text>
<text class="a" x="1032.7" y="1166.2">OOC</text><text class="m" x="1027.3" y="1158.1">−</text>
<text class="a" x="1210.6" y="1206.2">COO</text><text class="m" x="1252.3" y="1193.3">−</text>
<text class="a" x="1088.8" y="1257.3">OOC</text><text class="m" x="1084" y="1262.3">−</text>
<text class="c" x="1034.3" y="1295.5">bis-DO3A2</text>
</g>

<g id="pyDO1">
<path d="M695.1 1331.5L716.6 1343.7V1369.1L699.5 1377.5M688.6 1376.7L674.1 1369.1V1343.7L695.1 1331.5M678 1346.6V1366.6M698 1336.5L710.5 1345.7M703 1372.5L713 1366.5M674.1 1369.1L654.5 1387.5L656.9 1401.7M716.6 1369.1L737.1 1387.5L733.9 1401.7M656 1421.8L653.1 1434.3L670.9 1452.7L685.8 1449.7M732.9 1421.8L736.2 1435.2L717.5 1454.4L702.6 1451M694.2 1455.2V1472"/>
<text class="n" x="695.1" y="1388.5">N</text><text class="n" x="666.2" y="1418.6">NH</text><text class="n" x="724.5" y="1418.6">HN</text><text class="n" x="694.2" y="1454.6">N</text><text class="n" x="694.2" y="1487">R</text>
<text class="b" x="598.5" y="1530.5">pyDO1A</text><text class="t" x="683.5" y="1531">R = CH<tspan class="d">2</tspan>COO-</text>
<text class="b" x="598.5" y="1552.2">pyDO1P</text><text class="t" x="683.5" y="1552.7">R = CH<tspan class="d">2</tspan>PO<tspan class="d">3</tspan><tspan class="u">2-</tspan></text>
</g>

<g id="15pyN5">
<path d="M934.6 1325.7L955.6 1337.7V1363.3L941.6 1371.6M926.6 1371.6L912.6 1363.3V1337.7L934.6 1325.7M917.3 1340.7V1360.8M935.5 1329.8L948.5 1339M938.3 1366.6L950.9 1360.8M912.6 1363.3L891.2 1375.5V1392.5M955.6 1363.3L977.5 1375.5V1392.5M884.6 1409.6L874.8 1419.8L883.2 1443.5L899.5 1445.2M983.5 1409.6L992.9 1419.8L985 1443.5L969.6 1445.2M913.6 1456.9L920.6 1468.6H948.6L954.2 1456.9"/>
<text class="n" x="934.6" y="1383.5">N</text><text class="n" x="897.2" y="1407.7">NH</text><text class="n" x="970.5" y="1407.7">HN</text><text class="n" x="908" y="1455">X</text><text class="n" x="961.2" y="1455">X</text>
<text class="b" x="858.5" y="1530.5">15pyN<tspan class="d">5</tspan></text><text class="t" x="954.6" y="1531">X = NH</text>
<text class="b" x="858.5" y="1552.2">15pyN<tspan class="d">3</tspan>O<tspan class="d">2</tspan></text><text class="t" x="954.6" y="1552.7">X = O</text>
</g>

<g id="15pydieneN5">
<path d="M1136.2 1325.7L1157.2 1337.7V1363.3L1143.2 1371.6M1128.2 1371.6L1114.2 1363.3V1337.7L1136.2 1325.7M1118.9 1340.7V1360.8M1137.6 1329.8L1151.5 1339M1140 1366.6L1154 1360.8M1114.2 1363.3L1093.2 1375.5L1072.2 1363.3M1093.2 1375.5V1392.5M1089.6 1377V1391M1157.2 1363.3L1179.6 1375.5L1200.6 1363.3M1179.6 1375.5V1392.5M1183 1377V1391M1085.3 1409.6L1076.9 1419.8L1085.3 1443.5L1101.2 1445.2M1186.6 1409.6L1195 1419.8L1186.6 1443.5L1171.2 1445.2M1114.2 1457.4L1118.9 1470.3H1153.9L1158.6 1457.4"/>
<text class="n" x="1136.2" y="1383.5">N</text><text class="n" x="1092.3" y="1408.2">N</text><text class="n" x="1179.6" y="1408.2">N</text><text class="n" x="1116.6" y="1455">NH</text><text class="n" x="1157.2" y="1455">HN</text>
<text class="b" x="1086.2" y="1530.5">15pydieneN<tspan class="d">5</tspan></text>
</g>

</g>
</svg>
